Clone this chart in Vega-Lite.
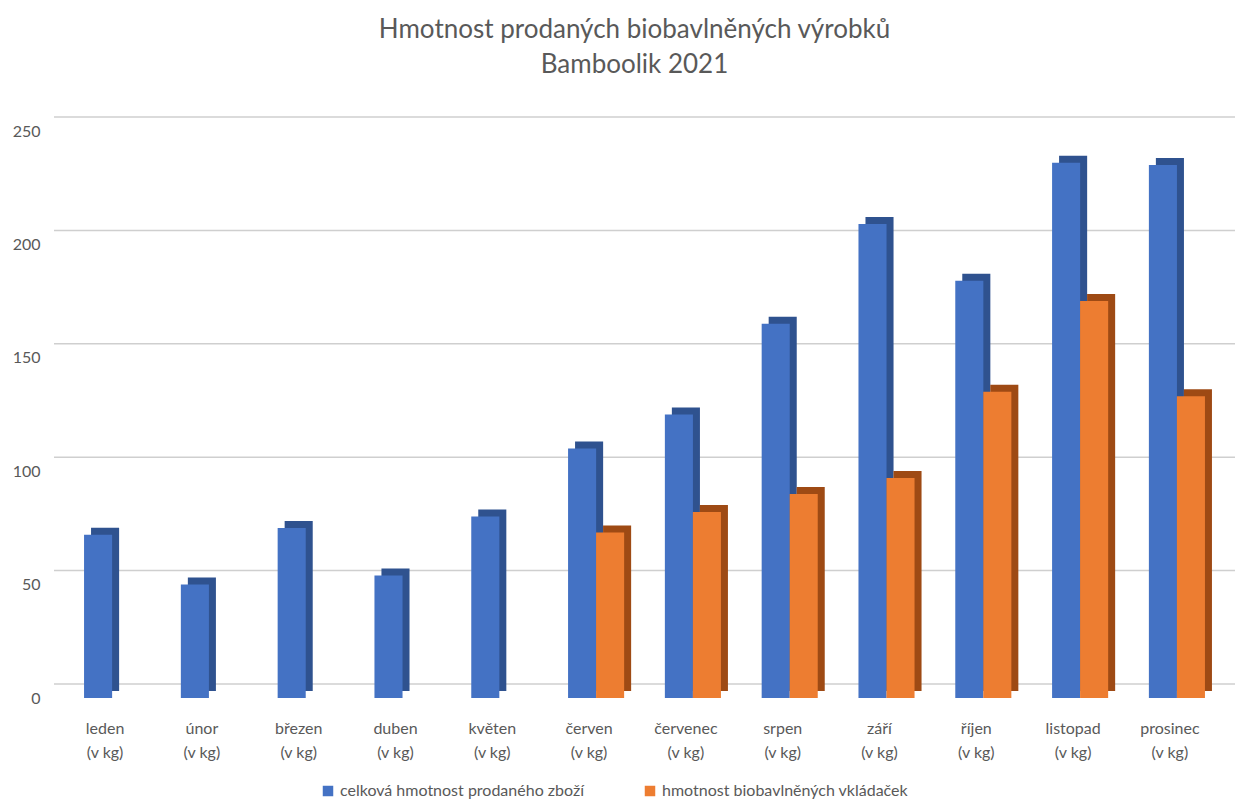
{
  "$schema": "https://vega.github.io/schema/vega-lite/v6.json",
  "autosize": {"type": "none"},
  "width": 1181,
  "height": 567,
  "padding": {"left": 54, "top": 131, "right": 0, "bottom": 107},
  "background": "white",
  "config": {
    "view": {"stroke": null},
    "font": "Lato",
    "axis": {"labelColor": "#595959", "labelFont": "Lato", "labelFontSize": 16},
    "legend": {"labelColor": "#595959", "labelFont": "Lato", "labelFontSize": 16}
  },
  "title": {
    "text": ["Hmotnost prodaných biobavlněných výrobků", "Bamboolik 2021"],
    "fontSize": 26,
    "font": "Lato",
    "fontWeight": "normal",
    "color": "#595959",
    "lineHeight": 35,
    "anchor": "middle",
    "dx": -10,
    "offset": 38
  },
  "datasets": {
    "hmotnost": [
      {"mesic": "leden", "rada": "celková hmotnost prodaného zboží", "kg": 72},
      {"mesic": "únor", "rada": "celková hmotnost prodaného zboží", "kg": 50},
      {"mesic": "březen", "rada": "celková hmotnost prodaného zboží", "kg": 75},
      {"mesic": "duben", "rada": "celková hmotnost prodaného zboží", "kg": 54},
      {"mesic": "květen", "rada": "celková hmotnost prodaného zboží", "kg": 80},
      {"mesic": "červen", "rada": "celková hmotnost prodaného zboží", "kg": 110},
      {"mesic": "červenec", "rada": "celková hmotnost prodaného zboží", "kg": 125},
      {"mesic": "srpen", "rada": "celková hmotnost prodaného zboží", "kg": 165},
      {"mesic": "září", "rada": "celková hmotnost prodaného zboží", "kg": 209},
      {"mesic": "říjen", "rada": "celková hmotnost prodaného zboží", "kg": 184},
      {"mesic": "listopad", "rada": "celková hmotnost prodaného zboží", "kg": 236},
      {"mesic": "prosinec", "rada": "celková hmotnost prodaného zboží", "kg": 235},
      {"mesic": "leden", "rada": "hmotnost biobavlněných vkládaček", "kg": 0},
      {"mesic": "únor", "rada": "hmotnost biobavlněných vkládaček", "kg": 0},
      {"mesic": "březen", "rada": "hmotnost biobavlněných vkládaček", "kg": 0},
      {"mesic": "duben", "rada": "hmotnost biobavlněných vkládaček", "kg": 0},
      {"mesic": "květen", "rada": "hmotnost biobavlněných vkládaček", "kg": 0},
      {"mesic": "červen", "rada": "hmotnost biobavlněných vkládaček", "kg": 73},
      {"mesic": "červenec", "rada": "hmotnost biobavlněných vkládaček", "kg": 82},
      {"mesic": "srpen", "rada": "hmotnost biobavlněných vkládaček", "kg": 90},
      {"mesic": "září", "rada": "hmotnost biobavlněných vkládaček", "kg": 97},
      {"mesic": "říjen", "rada": "hmotnost biobavlněných vkládaček", "kg": 135},
      {"mesic": "listopad", "rada": "hmotnost biobavlněných vkládaček", "kg": 175},
      {"mesic": "prosinec", "rada": "hmotnost biobavlněných vkládaček", "kg": 133}
    ],
    "mrizka": [{"g": 0}, {"g": 50}, {"g": 100}, {"g": 150}, {"g": 200}, {"g": 250}]
  },
  "layer": [
    {
      "data": {"name": "mrizka"},
      "mark": {"type": "rule", "color": "#cfcfcf", "strokeWidth": 1.5, "yOffset": -14},
      "encoding": {
        "y": {
          "field": "g",
          "type": "quantitative",
          "scale": {"domain": [0, 250], "nice": false},
          "axis": {
            "title": null,
            "values": [0, 50, 100, 150, 200, 250],
            "domain": false,
            "ticks": false,
            "grid": false,
            "labelPadding": 14
          }
        }
      }
    },
    {
      "data": {"name": "hmotnost"},
      "transform": [{"filter": "datum.rada === 'celková hmotnost prodaného zboží'"}],
      "mark": {"type": "bar", "color": "#2f528f", "width": {"band": 0.5}, "xOffset": -7, "yOffset": -7},
      "encoding": {
        "x": {"field": "mesic", "type": "nominal"},
        "y": {"field": "kg", "type": "quantitative"}
      }
    },
    {
      "data": {"name": "hmotnost"},
      "transform": [{"filter": "datum.rada === 'hmotnost biobavlněných vkládaček'"}],
      "mark": {"type": "bar", "color": "#9e4a14", "width": {"band": 0.5}, "xOffset": 21, "yOffset": -7},
      "encoding": {
        "x": {"field": "mesic", "type": "nominal"},
        "y": {"field": "kg", "type": "quantitative"}
      }
    },
    {
      "data": {"name": "hmotnost"},
      "transform": [{"filter": "datum.rada === 'celková hmotnost prodaného zboží'"}],
      "mark": {"type": "bar", "width": {"band": 0.5}, "xOffset": -14},
      "encoding": {
        "x": {"field": "mesic", "type": "nominal"},
        "y": {"field": "kg", "type": "quantitative"},
        "color": {"field": "rada", "type": "nominal"}
      }
    },
    {
      "data": {"name": "hmotnost"},
      "transform": [{"filter": "datum.rada === 'hmotnost biobavlněných vkládaček'"}],
      "mark": {"type": "bar", "width": {"band": 0.5}, "xOffset": 14},
      "encoding": {
        "x": {
          "field": "mesic",
          "type": "nominal",
          "scale": {
            "domain": ["leden", "únor", "březen", "duben", "květen", "červen", "červenec", "srpen", "září", "říjen", "listopad", "prosinec"],
            "paddingInner": 0.42,
            "paddingOuter": 0.31
          },
          "axis": {
            "title": null,
            "labelAngle": 0,
            "labelAlign": "center",
            "labelExpr": "[datum.label, '(v kg)']",
            "labelLineHeight": 24,
            "labelPadding": 30,
            "labelOffset": -7,
            "domain": false,
            "ticks": false,
            "grid": false
          }
        },
        "y": {"field": "kg", "type": "quantitative"},
        "color": {
          "field": "rada",
          "type": "nominal",
          "scale": {
            "domain": ["celková hmotnost prodaného zboží", "hmotnost biobavlněných vkládaček"],
            "range": ["#4472c4", "#ed7d31"]
          },
          "legend": {
            "title": null,
            "orient": "none",
            "legendX": 266,
            "legendY": 652,
            "direction": "horizontal",
            "symbolType": "square",
            "symbolSize": 110,
            "symbolStrokeWidth": 0,
            "columnPadding": 58,
            "labelLimit": 400
          }
        }
      }
    }
  ]
}
